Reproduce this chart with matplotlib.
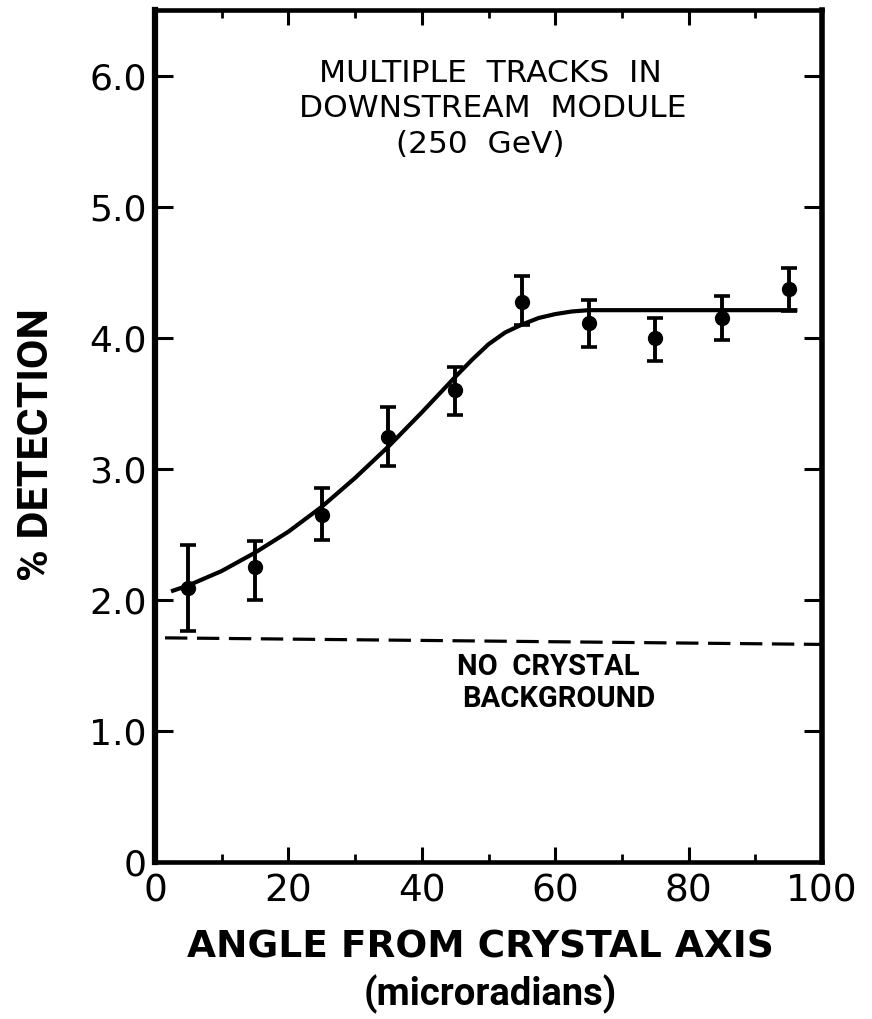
import numpy as np
import matplotlib
matplotlib.use('Agg')
from matplotlib import pyplot as plt
from matplotlib.ticker import MultipleLocator

# pomiary: kat [mikroradiany], % detekcji, dolny i gorny koniec bledu
katy = [5, 15, 25, 35, 45, 55, 65, 75, 85, 95]
detekcja = [2.09, 2.25, 2.65, 3.24, 3.60, 4.27, 4.11, 4.00, 4.15, 4.37]
blad_dol = [1.76, 2.00, 2.46, 3.02, 3.41, 4.10, 3.93, 3.82, 3.98, 4.20]
blad_gora = [2.42, 2.45, 2.85, 3.47, 3.78, 4.47, 4.29, 4.15, 4.32, 4.53]

# dopasowana krzywa
krzywa_x = [2.7, 5, 10, 15, 20, 25, 30, 35, 40, 45, 47.5, 50, 52.5, 55, 57.5, 60, 62.5, 65, 80, 96]
krzywa_y = [2.07, 2.11, 2.22, 2.36, 2.52, 2.71, 2.93, 3.17, 3.43, 3.70, 3.83, 3.95, 4.04, 4.10, 4.15,
            4.18, 4.20, 4.21, 4.21, 4.21]

# tlo bez krysztalu
tlo_x = [1.5, 100]
tlo_y = [1.71, 1.66]

x_ticks = [0, 20, 40, 60, 80, 100]
y_ticks = [0, 1, 2, 3, 4, 5, 6]
y_tick_labels = ['0', '1.0', '2.0', '3.0', '4.0', '5.0', '6.0']

waskie = ['Roboto', 'DejaVu Sans']

fig = plt.figure(figsize=(8.72, 10.19), dpi=100)
ax = fig.add_axes([155 / 872, 1 - 862 / 1019, 667 / 872, 852 / 1019])

ax.plot(krzywa_x, krzywa_y, color='black', linewidth=3)
ax.plot(tlo_x, tlo_y, color='black', linewidth=2.3, linestyle=(0, (7, 3)))

yerr = [np.array(detekcja) - np.array(blad_dol), np.array(blad_gora) - np.array(detekcja)]
ax.errorbar(katy, detekcja, yerr=yerr, fmt='o', color='black', markersize=10,
            elinewidth=2.8, capsize=6, capthick=2.6)

ax.set_xlim(0, 100)
ax.set_ylim(0, 6.5)
ax.set_xticks(x_ticks)
ax.set_xticklabels([str(t) for t in x_ticks])
ax.xaxis.set_minor_locator(MultipleLocator(10))
ax.set_yticks(y_ticks)
ax.set_yticklabels(y_tick_labels)

ax.tick_params(axis='x', which='major', direction='in', top=True, length=11, width=2.2,
               labelsize=27, pad=8)
ax.tick_params(axis='x', which='minor', direction='in', top=True, length=5.5, width=2.0)
ax.tick_params(axis='y', which='major', direction='in', right=True, length=13, width=2.2,
               labelsize=26, pad=6)

ax.spines['left'].set_linewidth(4.5)
ax.spines['right'].set_linewidth(4)
ax.spines['top'].set_linewidth(3.3)
ax.spines['bottom'].set_linewidth(3.3)

# opisy osi
fig.text(480 / 872, 1 - 958 / 1019, 'ANGLE FROM CRYSTAL AXIS', ha='center', va='baseline',
         fontsize=27, fontweight='bold')
fig.text(490 / 872, 1 - 1005 / 1019, '(microradians)', ha='center', va='baseline',
         fontsize=27.5, fontweight='bold', family=waskie)
fig.text(36 / 872, 1 - 445 / 1019, '% DETECTION', rotation=90, ha='center', va='center',
         fontsize=31, fontweight='bold', family=waskie)

# napisy na wykresie
ax.text(50.3, 5.95, 'MULTIPLE  TRACKS  IN', ha='center', va='baseline', fontsize=22.5)
ax.text(50.6, 5.68, 'DOWNSTREAM  MODULE', ha='center', va='baseline', fontsize=22.5)
ax.text(48.8, 5.41, '(250  GeV)', ha='center', va='baseline', fontsize=22.5)
ax.text(45.3, 1.43, 'NO  CRYSTAL', ha='left', va='baseline', fontsize=21,
        fontweight='bold', family=waskie)
ax.text(46.0, 1.18, 'BACKGROUND', ha='left', va='baseline', fontsize=21,
        fontweight='bold', family=waskie)

plt.savefig('out.png', dpi=100)
